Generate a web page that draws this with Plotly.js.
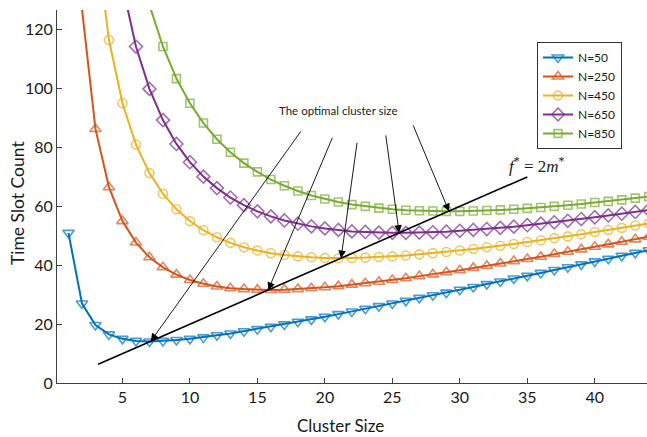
<!DOCTYPE html>
<html>
<head>
<meta charset="utf-8">
<script src="https://cdn.plot.ly/plotly-3.0.1.min.js"></script>
<style>
  html, body { margin: 0; padding: 0; background: #fff; }
  #chart { width: 647px; height: 437px; }
</style>
</head>
<body>
<div id="chart"></div>
<script>
// Time slot count versus cluster size for several network sizes N
const xN50  = [1,2,3,4,5,6,7,8,9,10,11,12,13,14,15,16,17,18,19,20,21,22,23,24,25,26,27,28,29,30,31,32,33,34,35,36,37,38,39,40,41,42,43,44];
const yN50  = [51,27,19.7,16.5,15,14.3,14.1,14.3,14.6,15,15.5,16.2,16.8,17.6,18.3,19.1,19.9,20.8,21.6,22.5,23.4,24.3,25.2,26.1,27,27.9,28.9,29.8,30.7,31.7,32.6,33.6,34.5,35.5,36.4,37.4,38.4,39.3,40.3,41.3,42.2,43.2,44.2,45.1];

const xN250 = [2,3,4,5,6,7,8,9,10,11,12,13,14,15,16,17,18,19,20,21,22,23,24,25,26,27,28,29,30,31,32,33,34,35,36,37,38,39,40,41,42,43,44];
const yN250 = [127,86.3,66.5,55,47.7,42.7,39.3,36.8,35,33.7,32.8,32.2,31.9,31.7,31.6,31.7,31.9,32.2,32.5,32.9,33.4,33.9,34.4,35,35.6,36.3,36.9,37.6,38.3,39.1,39.8,40.6,41.4,42.1,42.9,43.8,44.6,45.4,46.3,47.1,48,48.8,49.7];

const xN450 = [3,4,5,6,7,8,9,10,11,12,13,14,15,16,17,18,19,20,21,22,23,24,25,26,27,28,29,30,31,32,33,34,35,36,37,38,39,40,41,42,43,44];
const yN450 = [153,116.5,95,81,71.3,64.3,59,55,51.9,49.5,47.6,46.1,45,44.1,43.5,43,42.7,42.5,42.4,42.5,42.6,42.8,43,43.3,43.7,44.1,44.5,45,45.5,46.1,46.6,47.2,47.9,48.5,49.2,49.8,50.5,51.3,52,52.7,53.5,54.2];

const xN650 = [5,6,7,8,9,10,11,12,13,14,15,16,17,18,19,20,21,22,23,24,25,26,27,28,29,30,31,32,33,34,35,36,37,38,39,40,41,42,43,44];
const yN650 = [135,114.3,99.9,89.3,81.2,75,70.1,66.2,63,60.4,58.3,56.6,55.2,54.1,53.2,52.5,52,51.5,51.3,51.1,51,51,51.1,51.2,51.4,51.7,52,52.3,52.7,53.1,53.6,54.1,54.6,55.1,55.7,56.3,56.9,57.5,58.1,58.8];

const xN850 = [7,8,9,10,11,12,13,14,15,16,17,18,19,20,21,22,23,24,25,26,27,28,29,30,31,32,33,34,35,36,37,38,39,40,41,42,43,44];
const yN850 = [128.4,114.3,103.4,95,88.3,82.8,78.4,74.7,71.7,69.1,67,65.2,63.7,62.5,61.5,60.6,60,59.4,59,58.7,58.5,58.4,58.3,58.3,58.4,58.6,58.8,59,59.3,59.6,60,60.4,60.8,61.3,61.7,62.2,62.8,63.3];

// Optimal points (m*, f*) and the f* = 2m* reference line
const optX = [7.1, 15.8, 21.2, 25.5, 29.2];
const optY = [14.2, 31.6, 42.4, 51.0, 58.3];
const refLineX = [3.2, 35];
const refLineY = [6.4, 70];

// Where each annotation arrow starts (below the label)
const arrowTailX = [18.3, 20.6, 22.4, 24.5, 26.5];
const arrowTailY = [86.0, 83.8, 82.1, 84.6, 88.0];

const seriesNames = ['N=50', 'N=250', 'N=450', 'N=650', 'N=850'];
const xTicks = [5, 10, 15, 20, 25, 30, 35, 40];
const yTicks = [0, 20, 40, 60, 80, 100, 120];

const colors  = ['#0072BD', '#D95319', '#EDB120', '#7E2F8E', '#77AC30'];
const symbols = ['triangle-down-open', 'triangle-up-open', 'circle-open', 'diamond-open', 'square-open'];
const sizes   = [10, 10, 9, 10, 8];
const xs = [xN50, xN250, xN450, xN650, xN850];
const ys = [yN50, yN250, yN450, yN650, yN850];

const FONT = 'Lato, "Open Sans", sans-serif';
const TEXT = '#1a1a1a';
const AXIS = '#404040';
const Y_MAX = 126.7;

const traces = seriesNames.map((name, i) => ({
  type: 'scatter',
  mode: 'lines+markers',
  name: name,
  x: xs[i],
  y: ys[i],
  line: { color: colors[i], width: 2 },
  marker: {
    symbol: symbols[i],
    // points above the y limit keep their line segment but get no marker
    size: ys[i].map(v => (v > Y_MAX ? 0 : sizes[i])),
    color: colors[i],
    line: { width: 1.6, color: colors[i] }
  }
}));

traces.push({
  type: 'scatter',
  mode: 'lines',
  x: refLineX,
  y: refLineY,
  line: { color: '#000', width: 1.6 },
  showlegend: false,
  hoverinfo: 'skip'
});

const annotations = optX.map((x, i) => ({
  x: x, y: optY[i],
  ax: arrowTailX[i], ay: arrowTailY[i],
  xref: 'x', yref: 'y', axref: 'x', ayref: 'y',
  showarrow: true,
  arrowhead: 2,
  arrowsize: 1.7,
  arrowwidth: 0.9,
  arrowcolor: '#000',
  standoff: 0,
  text: ''
}));

const L = 57, T = 10, W = 647, H = 437, B = 54, R = 0;
const pw = W - L - R, ph = H - T - B;
const px = v => (v - L) / pw;
const py = v => (H - B - v) / ph;

annotations.push({
  x: px(338), y: py(111), xref: 'paper', yref: 'paper',
  xanchor: 'center', yanchor: 'middle',
  text: 'The optimal cluster size',
  showarrow: false,
  font: { family: FONT, size: 11.5, color: TEXT }
});

annotations.push({
  x: px(537), y: py(165), xref: 'paper', yref: 'paper',
  xanchor: 'center', yanchor: 'middle',
  text: '<i>f</i><sup>*</sup> = 2<i>m</i><sup>*</sup>',
  showarrow: false,
  font: { family: '"Liberation Serif", "DejaVu Serif", serif', size: 17, color: TEXT }
});

// Axis titles, placed as labels so they sit exactly where wanted
annotations.push({
  x: px(340), y: py(425), xref: 'paper', yref: 'paper',
  xanchor: 'center', yanchor: 'middle',
  text: 'Cluster Size',
  showarrow: false,
  font: { family: FONT, size: 17, color: TEXT }
});

annotations.push({
  x: px(17), y: py(203), xref: 'paper', yref: 'paper',
  xanchor: 'center', yanchor: 'middle',
  textangle: -90,
  text: 'Time Slot Count',
  showarrow: false,
  font: { family: FONT, size: 17.5, color: TEXT }
});

const layout = {
  width: W,
  height: H,
  margin: { l: L, r: R, t: T, b: B, pad: 0 },
  paper_bgcolor: '#fff',
  plot_bgcolor: '#fff',
  font: { family: FONT, size: 16, color: TEXT },
  xaxis: {
    range: [0.15, 43.87],
    tickvals: xTicks,
    ticktext: xTicks.map(String),
    ticks: 'inside',
    ticklen: 5,
    tickcolor: AXIS,
    showline: true,
    linecolor: AXIS,
    linewidth: 1,
    showgrid: false,
    zeroline: false,
    tickfont: { family: FONT, size: 16, color: TEXT }
  },
  yaxis: {
    range: [0, Y_MAX],
    tickvals: yTicks,
    ticktext: yTicks.map(String),
    ticks: 'inside',
    ticklen: 5,
    tickcolor: AXIS,
    showline: true,
    linecolor: AXIS,
    linewidth: 1,
    showgrid: false,
    zeroline: false,
    tickfont: { family: FONT, size: 16, color: TEXT }
  },
  showlegend: true,
  legend: {
    x: px(537),
    y: py(42),
    xanchor: 'left',
    yanchor: 'top',
    bgcolor: '#fff',
    bordercolor: '#333',
    borderwidth: 1,
    font: { family: FONT, size: 12, color: TEXT },
    tracegroupgap: 0,
    itemwidth: 30
  },
  annotations: annotations
};

Plotly.newPlot('chart', traces, layout, { displayModeBar: false, staticPlot: true });
</script>
</body>
</html>
